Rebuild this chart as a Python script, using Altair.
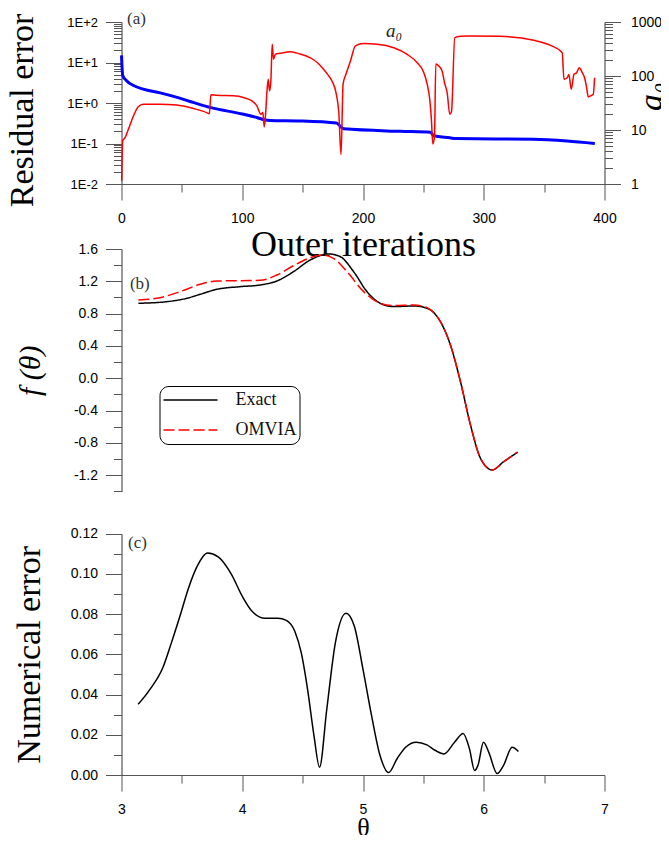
import altair as alt
import pandas as pd

# ---------------- Panel (a): residual error and a0 vs outer iterations
res_iter = [0, 1, 4, 10, 18, 32, 46, 60, 74, 87, 101, 112, 119, 123, 148, 178, 181, 184,
            231, 256, 258.5, 272, 277, 341, 369, 392]
res_err = [15, 4.8, 3.6, 2.7, 2.2, 1.78, 1.38, 1.02, 0.77, 0.64, 0.53, 0.44, 0.38, 0.37,
           0.36, 0.32, 0.27, 0.23, 0.20, 0.19, 0.155, 0.138, 0.132, 0.127, 0.115, 0.1]

a0_iter = [0.15, 1.0, 2.9, 5.7, 9.8, 13.9, 18.1, 31.9, 45.7, 59.5, 70.6, 72.8, 74, 78.9,
           92.7, 101, 108, 112.1, 115.4, 117.1, 118.2, 119.2, 120.4, 121.5, 122.6, 123.7,
           124.8, 125.9, 127.3, 131.4, 140, 148, 153, 159.1, 163, 167.4, 171, 174.3, 177.9,
           179.9, 181.8, 183.5, 186, 189.6, 193.7, 200.7, 211.7, 225.5, 236.6, 244.9, 250.4,
           253.2, 255.4, 256.7, 257.8, 259.2, 260.3, 262.8, 265.5, 267.5, 269.7, 271.9, 273.3,
           276, 280.7, 286.2, 313.9, 341.5, 355.3, 365, 366.4, 369.2, 370.5, 372.5, 374.7,
           376.9, 379.1, 381.6, 383.5, 385.2, 386.5, 388.5, 390.7, 391.8]
a0_val = [1.15, 6.3, 7.2, 10.3, 18, 27, 30, 30, 29, 25, 21, 20, 45, 44,
          43, 40, 34.5, 28, 19.5, 21, 11.4, 18, 49, 87, 53, 81,
          388, 204, 252, 263, 280, 255, 235, 200, 170, 132, 105, 81, 46,
          22, 3.5, 71, 110, 190, 360, 398, 388, 334, 252, 176, 115,
          70, 35, 15, 5.5, 7.5, 166, 153, 124, 75, 49, 19.5, 22,
          513, 543, 552, 543, 458, 369, 270, 87, 93, 107, 57, 107,
          115, 142, 115, 93, 61, 41, 43, 46, 93]

# ---------------- Panel (b): f(theta)
theta_exact = [3.14, 3.375, 3.54, 3.651, 3.789, 3.983, 4.148, 4.287, 4.425, 4.563, 4.715,
               4.812, 4.922, 5.033, 5.143, 5.254, 5.42, 5.53, 5.641, 5.724, 5.807, 5.89,
               5.973, 6.07, 6.166, 6.28]
f_exact = [0.928, 0.948, 0.99, 1.039, 1.101, 1.134, 1.155, 1.204, 1.32, 1.464, 1.538,
           1.505, 1.32, 1.072, 0.928, 0.887, 0.895, 0.866, 0.701, 0.412, -0.041, -0.577,
           -0.99, -1.134, -1.031, -0.915]
theta_omvia = [3.14, 3.32, 3.485, 3.651, 3.789, 3.983, 4.148, 4.287, 4.425, 4.563, 4.66,
               4.756, 4.867, 5.005, 5.143, 5.254, 5.42, 5.53, 5.641, 5.724, 5.807, 5.89,
               5.973, 6.07, 6.166, 6.28]
f_omvia = [0.969, 0.998, 1.072, 1.163, 1.204, 1.208, 1.212, 1.278, 1.394, 1.493, 1.526,
           1.485, 1.32, 1.072, 0.928, 0.899, 0.907, 0.874, 0.701, 0.412, -0.041, -0.577,
           -0.99, -1.134, -1.031, -0.915]
series_names = ["Exact", "OMVIA"]

# ---------------- Panel (c): numerical error
theta_c = [3.138, 3.236, 3.342, 3.413, 3.483, 3.554, 3.624, 3.713, 3.801, 3.907, 4.002,
           4.083, 4.189, 4.295, 4.365, 4.436, 4.489, 4.541, 4.594, 4.640, 4.700, 4.771,
           4.859, 4.929, 5.000, 5.071, 5.141, 5.212, 5.282, 5.353, 5.441, 5.529, 5.600,
           5.670, 5.758, 5.829, 5.882, 5.924, 5.952, 5.998, 6.041, 6.111, 6.164, 6.235,
           6.287]
num_err = [0.0352, 0.0426, 0.0533, 0.0657, 0.0788, 0.0928, 0.1035, 0.1104, 0.1085, 0.1002,
           0.0887, 0.0813, 0.078, 0.078, 0.0769, 0.0714, 0.0607, 0.0426, 0.0196, 0.0039,
           0.0327, 0.0657, 0.0805, 0.0739, 0.0525, 0.0295, 0.0097, 0.0012, 0.0081, 0.0138,
           0.0163, 0.015, 0.0122, 0.0105, 0.0163, 0.0207, 0.013, 0.0023, 0.0048, 0.0163,
           0.0114, 0.0007, 0.0048, 0.0138, 0.0117]

# ---------------- tick values
iter_ticks = [0, 50, 100, 150, 200, 250, 300, 350, 400]
res_ticks = [float(f"{k}e{d}") for d in range(-2, 2) for k in range(1, 10)] + [100.0]
a0_ticks = [float(f"{k}e{d}") for d in range(0, 3) for k in range(1, 10)] + [1000.0]
f_ticks = [round(-1.4 + 0.2 * i, 1) for i in range(16)]
err_ticks = [round(0.01 * i, 2) for i in range(13)]
theta_ticks = [3, 3.5, 4, 4.5, 5, 5.5, 6, 6.5, 7]

AX = "#555555"
SERIF = "Liberation Serif"


def tsize(test):
    return {"condition": {"test": test, "value": 16}, "value": 8}


DEC = "abs(log(datum.value)/LN10 - round(log(datum.value)/LN10)) < 1e-6"
EXP = "round(log(datum.value)/LN10)"

x_axis_a = alt.Axis(values=iter_ticks, tickSize=tsize("datum.value % 100 == 0"),
                    labelExpr="datum.value % 100 == 0 ? '' + datum.value : ''",
                    labelFlush=False, labelOverlap=False, labelPadding=11,
                    title="Outer iterations", titleFontSize=36, titlePadding=2)
y_axis_res = alt.Axis(orient="left", values=res_ticks, tickSize=tsize(DEC),
                      labelExpr=f"{DEC} ? '1E' + ({EXP} >= 0 ? '+' : '-') + abs({EXP}) : ''",
                      labelOverlap=False, labelFlush=False, labelPadding=8, labelFontSize=13,
                      title="Residual error", titleFontSize=34, titlePadding=27, titleY=88)
y_axis_a0 = alt.Axis(orient="right", values=a0_ticks, tickSize=tsize(DEC),
                     labelExpr=f"{DEC} ? '' + datum.value : ''",
                     labelOverlap=False, labelFlush=False, labelPadding=10,
                     title="a₀", titleFontSize=34, titleFontStyle="italic", titleAngle=270,
                     titleBaseline="top", titleAlign="center", titleX=30, titleY=74)

x_scale_a = alt.Scale(domain=[0, 400], nice=False, zero=False)
res_scale = alt.Scale(type="log", domain=[0.01, 100], nice=False)
a0_scale = alt.Scale(type="log", domain=[1, 1000], nice=False)

df_res = pd.DataFrame({"iter": res_iter, "res": res_err})
df_a0 = pd.DataFrame({"iter": a0_iter, "a0": a0_val})

blue = alt.Chart(df_res).mark_line(color="#0000ff", strokeWidth=3, interpolate="monotone").encode(
    x=alt.X("iter:Q", scale=x_scale_a, axis=x_axis_a),
    y=alt.Y("res:Q", scale=res_scale, axis=y_axis_res),
)
label_a = alt.Chart(pd.DataFrame({"iter": [4.6], "res": [122.0], "t": ["(a)"]})).mark_text(
    align="left", baseline="middle", font=SERIF, fontSize=17, color="#333"
).encode(
    x=alt.X("iter:Q", scale=x_scale_a, axis=x_axis_a),
    y=alt.Y("res:Q", scale=res_scale, axis=y_axis_res),
    text="t:N",
)
red = alt.Chart(df_a0).mark_line(color="#ff0000", strokeWidth=1.5, interpolate="monotone").encode(
    x=alt.X("iter:Q", scale=x_scale_a, axis=x_axis_a),
    y=alt.Y("a0:Q", scale=a0_scale, axis=y_axis_a0),
)
a0_text = alt.Chart(pd.DataFrame({"iter": [219], "a0": [680.0], "t": ["a₀"]})).mark_text(
    align="left", baseline="middle", font=SERIF, fontSize=19, fontStyle="italic", color="#222"
).encode(
    x=alt.X("iter:Q", scale=x_scale_a, axis=x_axis_a),
    y=alt.Y("a0:Q", scale=a0_scale, axis=y_axis_a0),
    text="t:N",
)

panel_a = alt.layer(
    alt.layer(blue, label_a), alt.layer(red, a0_text)
).resolve_scale(y="independent").properties(width=483, height=162)

# ---------------- Panels (b) and (c) share the theta axis
H = 526
x_scale_t = alt.Scale(domain=[3, 7], nice=False, zero=False)
x_axis_t = alt.Axis(values=theta_ticks, tickSize=tsize("datum.value % 1 == 0"),
                    labelExpr="datum.value % 1 == 0 ? '' + datum.value : ''",
                    labelFlush=False, labelOverlap=False, labelPadding=11,
                    title="θ", titleFontSize=26, titlePadding=-2)
f_scale = alt.Scale(domain=[-1.4, 1.6], range=[242.4, 0], nice=False, zero=False)
f_axis = alt.Axis(orient="left", values=f_ticks,
                  tickSize=tsize("abs(round(datum.value*10)) % 4 == 0"),
                  labelExpr="abs(round(datum.value*10)) % 4 == 0 ? (datum.value < 0 ? '-' : '') + format(abs(datum.value), '.1f') : ''",
                  labelOverlap=False, labelFlush=False, labelPadding=8,
                  title="f (θ)", titleFontSize=30, titleFontStyle="italic", titlePadding=28)
err_scale = alt.Scale(domain=[0, 0.12], range=[H, 284.7], nice=False, zero=False)
err_axis = alt.Axis(orient="left", values=err_ticks,
                    tickSize=tsize("round(datum.value*100) % 2 == 0"),
                    labelExpr="round(datum.value*100) % 2 == 0 ? format(datum.value, '.2f') : ''",
                    labelOverlap=False, labelFlush=False, labelPadding=8,
                    title="Numerical error", titleFontSize=34, titlePadding=24)

df_b = pd.concat([
    pd.DataFrame({"theta": theta_exact, "f": f_exact, "series": series_names[0]}),
    pd.DataFrame({"theta": theta_omvia, "f": f_omvia, "series": series_names[1]}),
])
leg = alt.Legend(orient="none", legendX=38, legendY=364, title=None, symbolType="stroke",
                 symbolSize=2916, symbolStrokeWidth=1.5, labelFont=SERIF, labelFontSize=18,
                 labelColor="#111", labelOffset=17, padding=3, cornerRadius=9,
                 strokeColor="black", fillColor="white", clipHeight=22, rowPadding=8)
b_lines = alt.Chart(df_b).mark_line(strokeWidth=1.5, interpolate="monotone").encode(
    x=alt.X("theta:Q", scale=x_scale_t, axis=x_axis_t),
    y=alt.Y("f:Q", scale=f_scale, axis=f_axis),
    color=alt.Color("series:N", scale=alt.Scale(domain=series_names, range=["#000000", "#ff0000"]),
                    legend=leg),
    strokeDash=alt.StrokeDash("series:N", scale=alt.Scale(domain=series_names, range=[[1, 0], [11, 4]]),
                              legend=leg),
)
label_b = alt.Chart(pd.DataFrame({"theta": [3.07], "f": [1.165], "t": ["(b)"]})).mark_text(
    align="left", baseline="middle", font=SERIF, fontSize=17, color="#333"
).encode(
    x=alt.X("theta:Q", scale=x_scale_t, axis=x_axis_t),
    y=alt.Y("f:Q", scale=f_scale, axis=f_axis),
    text="t:N",
)
df_c = pd.DataFrame({"theta": theta_c, "err": num_err})
c_line = alt.Chart(df_c).mark_line(color="black", strokeWidth=1.5, interpolate="monotone").encode(
    x=alt.X("theta:Q", scale=x_scale_t, axis=x_axis_t),
    y=alt.Y("err:Q", scale=err_scale, axis=err_axis),
)
label_c = alt.Chart(pd.DataFrame({"theta": [3.054], "err": [0.1152], "t": ["(c)"]})).mark_text(
    align="left", baseline="middle", font=SERIF, fontSize=17, color="#333"
).encode(
    x=alt.X("theta:Q", scale=x_scale_t, axis=x_axis_t),
    y=alt.Y("err:Q", scale=err_scale, axis=err_axis),
    text="t:N",
)

panel_bc = alt.layer(
    alt.layer(b_lines, label_b), alt.layer(c_line, label_c)
).resolve_scale(y="independent").properties(width=483, height=H)

chart = alt.vconcat(panel_a, panel_bc, spacing=65, bounds="flush").properties(
    padding={"left": -2.5, "top": 1, "right": -8, "bottom": -5}
).configure_axis(
    grid=False, domainColor=AX, tickColor=AX, domainWidth=1.2, tickWidth=1,
    labelFont="Liberation Sans", labelFontSize=14, labelColor="black",
    titleFont=SERIF, titleFontWeight="normal", titleColor="black",
).configure_view(strokeWidth=0)

chart.save("out.html", embed_options={"renderer": "svg", "actions": False})
